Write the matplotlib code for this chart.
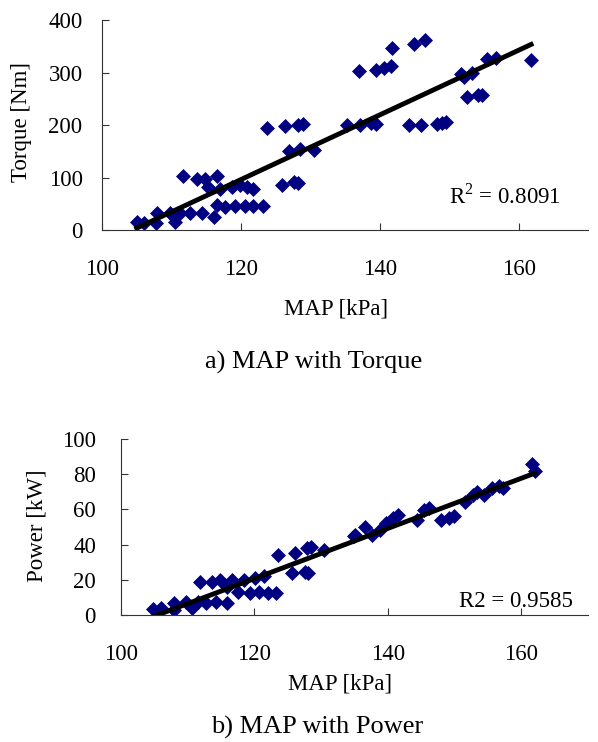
import numpy as np
import matplotlib.pyplot as plt

plt.rcParams['font.family'] = ['Liberation Serif', 'DejaVu Serif']
plt.rcParams['mathtext.fontset'] = 'custom'
plt.rcParams['mathtext.rm'] = 'Liberation Serif'

# MAP [kPa] vs torque [Nm]
map_torque = [105.0, 106.0, 107.9, 107.8, 109.8, 110.5, 111.3, 112.7, 114.4, 116.1,
              116.6, 117.7, 119.2, 120.6, 121.8, 123.2, 111.7, 113.7, 114.9, 116.6,
              115.3, 117.0, 118.7, 119.9, 120.9, 121.8, 123.7, 125.9, 127.6, 128.3,
              126.3, 128.3, 129.0, 126.9, 128.5, 130.5, 135.3, 137.2, 138.7, 139.4,
              137.0, 139.5, 140.6, 141.6, 141.7, 145.0, 146.5, 144.2, 145.9, 148.3,
              149.0, 149.6, 151.7, 152.2, 153.3, 152.5, 154.1, 154.8, 155.5, 156.7,
              161.8]
torque = [16, 14, 32, 14, 32, 16, 32, 32, 32, 25,
          48, 44, 46, 46, 46, 46, 103, 98, 98, 102,
          82, 79, 82, 86, 82, 79, 195, 86, 92, 89,
          198, 200, 202, 151, 154, 152, 200, 200, 203, 202,
          302, 305, 308, 312, 346, 354, 362, 200, 200, 202,
          204, 206, 297, 292, 300, 253, 257, 257, 325, 327,
          324]

# MAP [kPa] vs power [kW]
map_power = [104.8, 106.0, 107.9, 107.9, 109.8, 110.6, 111.5, 112.7, 114.2, 115.9,
             111.8, 113.7, 114.9, 116.6, 115.9, 117.6, 119.3, 120.7, 122.0, 123.2,
             118.4, 120.1, 121.5, 123.5, 125.7, 127.6, 128.1, 126.1, 127.9, 128.5,
             130.4, 134.9, 135.1, 136.6, 137.6, 138.8, 139.7, 140.7, 141.5, 144.4,
             146.1, 145.4, 147.9, 149.1, 149.9, 151.5, 152.7, 153.4, 154.4, 155.6,
             156.6, 157.3, 161.6, 162.0]
power = [3.2, 3.8, 7.0, 2.8, 7.6, 3.8, 7.6, 7.0, 7.6, 6.6,
         19, 19, 20, 20, 16, 13, 12.7, 13, 12.7, 12.7,
         20, 21, 22, 34, 23.7, 24.6, 23.7, 35.4, 37.9, 38.8,
         37, 45, 45.5, 50, 45.5, 48, 52, 55, 57, 54,
         60.6, 59.7, 54, 55, 56, 64, 68, 70, 68, 72,
         73, 72, 86, 82]

fig = plt.figure(figsize=(5.98, 7.42), dpi=100)
ax1 = fig.add_axes([0.1706, 0.690, 0.8127, 0.283])
ax2 = fig.add_axes([0.2023, 0.1712, 0.781, 0.2372])

fs = 16.5

def panel(ax, x, y, yticks, xpad, ypad):
    x = np.array(x)
    y = np.array(y)
    ax.plot(x, y, 'D', color='#000080', markersize=7.3, markeredgewidth=0.5, zorder=2)
    k, b = np.polyfit(x, y, 1)
    xs = np.array([x.min(), x.max()])
    ax.plot(xs, k*xs + b, color='black', lw=3.5, zorder=3)
    ax.set_xlim(100, 170)
    ax.set_ylim(yticks[0], yticks[-1])
    ax.set_xticks([100, 120, 140, 160])
    ax.set_yticks(yticks)
    for s in ['top', 'right']:
        ax.spines[s].set_visible(False)
    for s in ['left', 'bottom']:
        ax.spines[s].set_color('#333333')
    ax.tick_params(direction='in', length=5, labelsize=fs, color='#333333')
    ax.tick_params(axis='x', pad=xpad)
    ax.tick_params(axis='y', pad=ypad)

panel(ax1, map_torque, torque, [0, 100, 200, 300, 400], 21, 14)
panel(ax2, map_power, power, [0, 20, 40, 60, 80, 100], 21, 18)

ax1.set_xlabel('MAP [kPa]', fontsize=fs)
ax1.xaxis.set_label_coords(0.481, -0.324)
ax1.set_ylabel('Torque [Nm]', fontsize=fs)
ax1.yaxis.set_label_coords(-0.144, 0.514)
ax1.text(0.944, 0.162, r'R$^{\mathrm{2}}$ = 0.8091', transform=ax1.transAxes,
         ha='right', va='center', fontsize=fs)

ax2.set_xlabel('MAP [kPa]', fontsize=fs)
ax2.xaxis.set_label_coords(0.469, -0.33)
ax2.set_ylabel('Power [kW]', fontsize=fs)
ax2.yaxis.set_label_coords(-0.158, 0.51)
ax2.text(0.968, 0.074, 'R2 = 0.9585', transform=ax2.transAxes, ha='right', va='center', fontsize=fs)

fig.text(0.525, 0.511, 'a) MAP with Torque', ha='center', va='center', fontsize=19)
fig.text(0.530, 0.019, 'b) MAP with Power', ha='center', va='center', fontsize=19)

fig.savefig('out.png', dpi=100)
